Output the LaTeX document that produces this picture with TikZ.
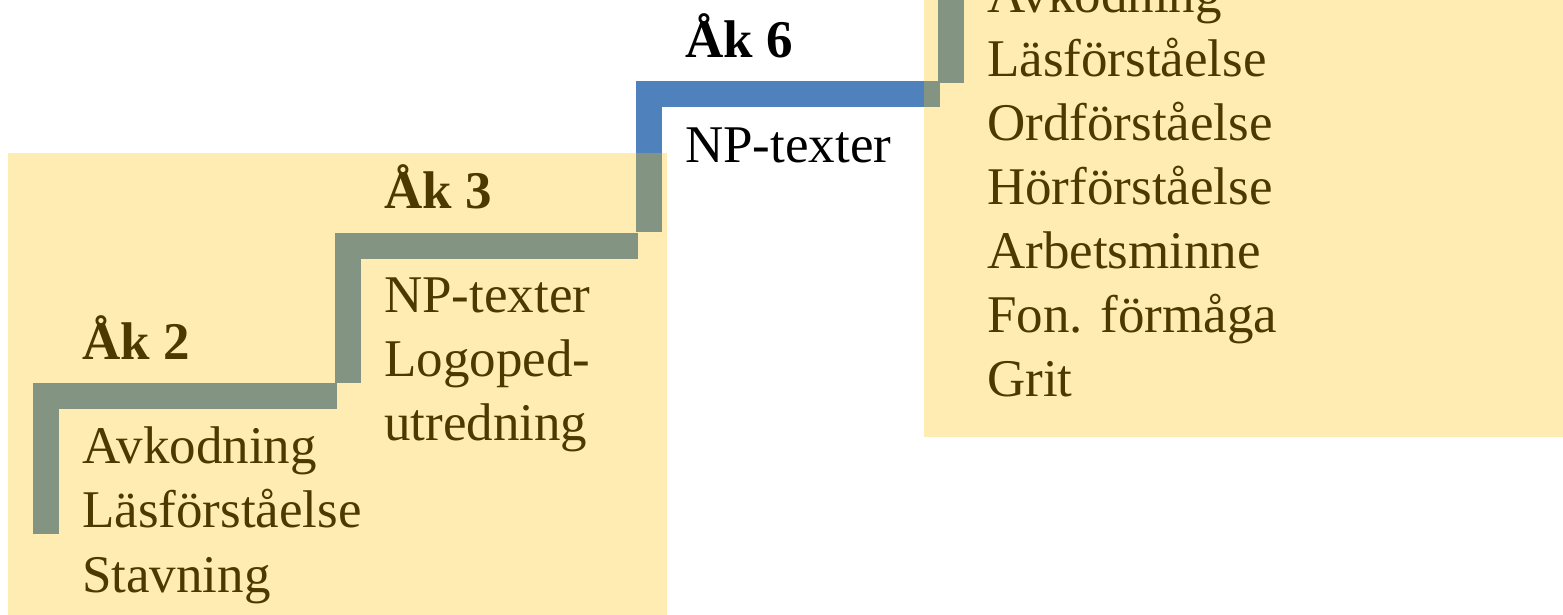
\documentclass[tikz,border=0pt]{standalone}
\usepackage{fontspec}
\setmainfont{Liberation Serif}
\definecolor{stepblue}{RGB}{79,129,189}
\definecolor{veil}{RGB}{255,192,0}
\begin{document}
\begin{tikzpicture}[x=1pt,y=-1pt,
  stair/.style={draw=stepblue,line width=26pt,line cap=butt,line join=miter},
  lbl/.style={inner sep=0pt,anchor=base west,font=\fontsize{53}{64}\selectfont},
  head/.style={inner sep=0pt,anchor=base west,font=\fontsize{53}{64}\selectfont\bfseries},
  veilbox/.style={fill=veil,fill opacity=0.3}]
\useasboundingbox (0,0) rectangle (1563,615);
\clip (0,0) rectangle (1563,615);

% the staircase, one L-shaped step at a time
\draw[stair] (46,534) -- (46,396) -- (337,396);
\draw[stair] (347.5,383) -- (347.5,245.5) -- (638,245.5);
\draw[stair] (649,232) -- (649,94.5) -- (940,94.5);
\draw[stair] (951,83) -- (951,-40);

% grade 2
\node[head] (ak2) at (82,359) {Åk 2};
\foreach \t/\y [count=\i] in {Avkodning/463, Läsförståelse/527, Stavning/592}
  \node[lbl] (two\i) at (82,\y) {\t};

% grade 3
\node[head] (ak3) at (384,208) {Åk 3};
\foreach \t/\y [count=\i] in {NP-texter/312, Logoped-/376, utredning/440}
  \node[lbl] (three\i) at (384,\y) {\t};

% grade 6
\node[head] (ak6) at (685,58) {Åk 6};
\node[lbl] (six1) at (685,162) {NP-texter};

% later tests
\foreach \t/\y [count=\i] in {Avkodning/13, Läsförståelse/77, Ordförståelse/140,
    Hörförståelse/204, Arbetsminne/268, Fon. förmåga/332, Grit/396}
  \node[lbl] (late\i) at (987,\y) {\t};

% translucent highlight panels
\fill[veilbox] (8,153) rectangle (667,625);
\fill[veilbox] (924,-10) rectangle (1573,437);
\end{tikzpicture}
\end{document}
